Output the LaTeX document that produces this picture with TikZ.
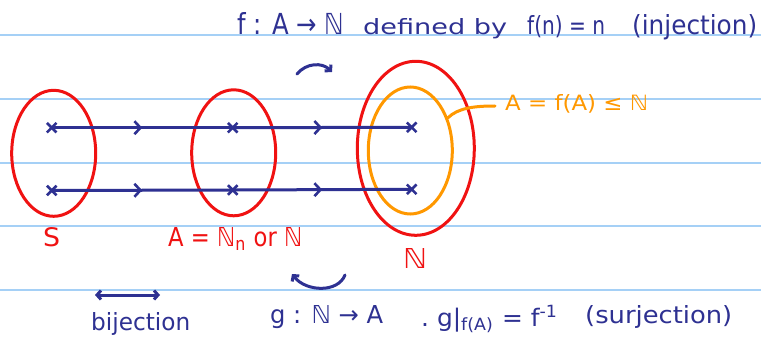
\documentclass[tikz,border=0pt]{standalone}
\usepackage{fontspec}
\setmainfont{DejaVu Sans}
\usepackage{graphicx}
\usetikzlibrary{shapes.geometric,shapes.misc,arrows.meta,decorations.markings}
\definecolor{pen}{RGB}{46,49,146}
\definecolor{redpen}{RGB}{240,18,18}
\definecolor{orangepen}{RGB}{255,152,0}
\definecolor{ruled}{RGB}{165,208,246}
\newcommand{\fitw}[3]{\resizebox{#1pt}{#2pt}{#3}}
\begin{document}
\begin{tikzpicture}[x=1pt,y=-1pt,
  txt/.style={inner sep=0pt, anchor=base west},
  rule/.style={draw=ruled, line width=2pt},
  setred/.style={ellipse, draw=redpen, line width=3pt, inner sep=0pt},
  setorange/.style={ellipse, draw=orangepen, line width=3pt, inner sep=0pt},
  pt/.style={cross out, draw=pen, line width=2.6pt, minimum size=7pt, inner sep=0pt},
  flow/.style={draw=pen, line width=3pt,
    postaction={decorate},
    decoration={markings, mark=at position 0.5 with {\arrow[pen, line width=2.6pt]{Straight Barb[length=6pt,width=13pt]}}}},
  curvy/.style={draw=pen, line width=3pt, line cap=round},
  orangeline/.style={draw=orangepen, line width=3pt, line cap=round}]
\useasboundingbox (0,0) rectangle (761,342);
\fill[white] (0,0) rectangle (761,342);
% ruled lines
\foreach \yy in {35.5,99.3,162.7,226,289.5}
  \draw[rule] (0,\yy) -- (761,\yy);
% sets
\node[setred, minimum width=84pt, minimum height=126pt] (S) at (53.7,153.3) {};
\node[setred, minimum width=84pt, minimum height=126pt] (A) at (233.7,152.8) {};
\node[setred, minimum width=117pt, minimum height=174pt] (N) at (415.8,148.3) {};
\node[setorange, minimum width=84pt, minimum height=127pt] (fA) at (410.3,150.5) {};
% points
\node[pt] (s1) at (51.7,127.7) {};
\node[pt] (s2) at (51.7,190.5) {};
\node[pt] (a1) at (232.7,127.7) {};
\node[pt] (a2) at (232.7,190) {};
\node[pt] (n1) at (411.7,127.3) {};
\node[pt] (n2) at (411.7,189.3) {};
\draw[flow] (s1.center) -- (a1.center);
\draw[flow] (a1.center) -- (n1.center);
\draw[flow] (s2.center) -- (a2.center);
\draw[flow] (a2.center) -- (n2.center);
% labels of sets
\node[txt, text=redpen] (Slab) at (43,247) {\fitw{17}{19}{S}};
\node[txt, text=redpen] (Alab) at (168,247) {\fitw{134}{19}{A = ℕ\textsubscript{n} or ℕ}};
\node[txt, text=redpen] (Nlab) at (403,269) {\fitw{24}{20}{ℕ}};
\node[txt, text=orangepen, inner xsep=0pt] (flab) at (505,110.7) {\fitw{143}{16}{A = f(A) ≤ ℕ}};
\coordinate (fend) at (495,106);
\draw[orangeline] (fA.41) .. controls (458,108) and (474,106) .. (fend);
% top text
\node[txt, text=pen] (t1) at (237,35) {\fitw{107}{22}{f : A → ℕ}};
\node[txt, text=pen] (t2) at (363,35) {\fitw{144}{16}{defined by}};
\node[txt, text=pen] (t3) at (527,35) {\fitw{78}{19}{f(n) = n}};
\node[txt, text=pen] (t4) at (632,35) {\fitw{125}{20}{(injection)}};
% top curved arrow
\coordinate (ta1) at (297,74);
\coordinate (ta2) at (332,72);
\draw[curvy, -{Straight Barb[length=4pt,width=9pt]}] (ta1) .. controls (306,63) and (322,62) .. (ta2);
% bottom curved arrow
\coordinate (ba1) at (345,275);
\coordinate (ba2) at (292,274);
\draw[curvy, -{Straight Barb[length=4pt,width=9pt]}] (ba1) .. controls (338,293) and (306,292) .. (ba2);
% bijection arrow
\coordinate (bj1) at (95,295);
\coordinate (bj2) at (160,295);
\draw[curvy, {Straight Barb[length=4pt,width=9pt]}-{Straight Barb[length=4pt,width=9pt]}] (bj1) -- (bj2);
% bottom text
\node[txt, text=pen] (b1) at (91,330) {\fitw{99}{18}{bijection}};
\node[txt, text=pen] (b2) at (270,323) {\fitw{113}{18}{g : ℕ → A}};
\node[txt, text=pen] (b3) at (421,326) {\fitw{137}{21}{.\ g|\textsubscript{f(A)} = f\textsuperscript{-1}}};
\node[txt, text=pen] (b4) at (585,323) {\fitw{147}{18}{(surjection)}};
\end{tikzpicture}
\end{document}
